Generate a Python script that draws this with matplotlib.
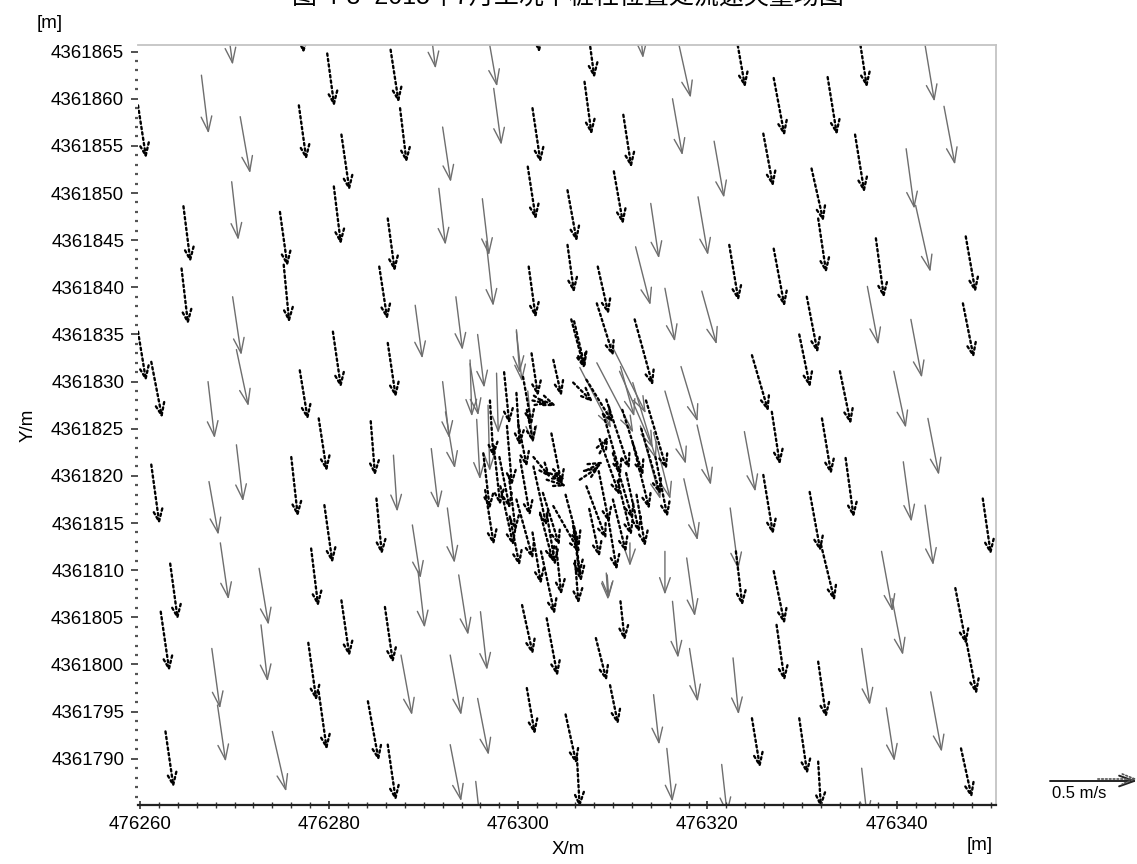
import numpy as np
from matplotlib import pyplot as plt
from matplotlib.patches import FancyArrowPatch

# Velocity vectors around the pile.
# Tail position (m) and velocity components (m/s).

# Solid (grey) arrows
solidX = [476269.0, 476290.5, 476296.7, 476316.9, 476343.0, 476312.6, 476266.5, 476270.6, 476292.0, 476297.4,
          476316.3, 476345.0, 476269.7, 476291.6, 476296.2, 476314.0, 476320.7, 476319.0, 476341.0, 476269.8,
          476293.4, 476296.6, 476312.4, 476315.5, 476342.0, 476336.9, 476319.4, 476267.2, 476270.2, 476289.1,
          476292.0, 476295.7, 476299.8, 476310.8, 476317.2, 476341.5, 476339.7, 476294.9,
          476270.2, 476267.3, 476268.5, 476272.6, 476272.8, 476267.6, 476268.2, 476274.0, 476286.8, 476290.8,
          476292.3, 476292.5, 476288.8, 476289.4, 476293.7, 476296.0, 476292.8, 476287.6, 476295.7, 476292.8,
          476318.9, 476317.5, 476316.3, 476317.8, 476318.1, 476322.7, 476314.3, 476315.7, 476322.4, 476323.9,
          476340.7, 476343.3, 476343.0, 476338.4, 476339.5, 476336.3, 476338.9, 476343.6, 476336.3, 476321.5,
          476295.5, 476309.4, 476315.5,
          476308.3, 476310.7, 476312.1, 476312.9, 476299.8, 476297.7, 476295.6, 476294.9, 476309.3, 476311.8,
          476314.3, 476296.8, 476301.0, 476306.5, 476309.8, 476315.5]
solidY = [4361869.6, 4361869.2, 4361867.3, 4361866.1, 4361865.7, 4361870.3, 4361862.5, 4361858.1, 4361857.0, 4361861.1,
          4361860.0, 4361859.2, 4361851.2, 4361850.5, 4361849.4, 4361848.9, 4361855.5, 4361849.6, 4361854.7, 4361839.0,
          4361839.0, 4361844.9, 4361844.3, 4361839.9, 4361848.7, 4361840.1, 4361839.6, 4361830.0, 4361833.4, 4361838.1,
          4361830.0, 4361835.0, 4361835.3, 4361831.6, 4361831.6, 4361836.6, 4361831.1, 4361831.9,
          4361823.3, 4361819.4, 4361812.9, 4361810.2, 4361804.2, 4361801.7, 4361795.7, 4361792.9, 4361822.2, 4361822.9,
          4361826.8, 4361816.6, 4361814.8, 4361809.9, 4361809.5, 4361805.6, 4361801.0, 4361801.0, 4361796.4, 4361791.5,
          4361825.4, 4361819.7, 4361806.7, 4361811.3, 4361801.7, 4361800.7, 4361796.8, 4361791.1, 4361816.6, 4361824.7,
          4361821.5, 4361826.1, 4361816.9, 4361812.0, 4361807.0, 4361801.7, 4361795.4, 4361797.1, 4361789.0, 4361789.4,
          4361787.6, 4361809.5, 4361812.0,
          4361832.0, 4361831.1, 4361829.9, 4361825.3, 4361835.5, 4361830.9, 4361826.0, 4361832.3, 4361809.7, 4361812.9,
          4361824.6, 4361827.5, 4361829.0, 4361831.5, 4361834.0, 4361829.0]
solidU = [0.044, 0.041, 0.057, 0.072, 0.054, 0.032, 0.041, 0.057, 0.047, 0.044,
          0.057, 0.063, 0.038, 0.038, 0.038, 0.047, 0.057, 0.057, 0.047, 0.050,
          0.038, 0.041, 0.085, 0.057, 0.085, 0.063, 0.085, 0.038, 0.069, 0.041,
          0.038, 0.038, 0.032, 0.079, 0.095, 0.063, 0.069, 0.047,
          0.038, 0.054, 0.047, 0.054, 0.038, 0.047, 0.047, 0.079, 0.022, 0.041,
          0.054, 0.041, 0.047, 0.038, 0.054, 0.038, 0.063, 0.063, 0.063, 0.063,
          0.079, 0.079, 0.032, 0.047, 0.047, 0.032, 0.032, 0.032, 0.047, 0.063,
          0.047, 0.063, 0.047, 0.063, 0.063, 0.047, 0.047, 0.063, 0.032, 0.032,
          0.032, 0.009, 0.000,
          0.210, 0.191, 0.134, 0.115, 0.019, 0.010, 0.019, 0.010, 0.010, 0.000,
          0.096, 0.010, 0.030, 0.180, 0.200, 0.120]
solidV = [-0.326, -0.326, -0.326, -0.326, -0.326, -0.326, -0.336, -0.326, -0.317, -0.326,
          -0.326, -0.336, -0.336, -0.326, -0.326, -0.317, -0.326, -0.336, -0.346, -0.336,
          -0.307, -0.374, -0.336, -0.307, -0.384, -0.336, -0.307, -0.326, -0.326, -0.307,
          -0.326, -0.307, -0.288, -0.288, -0.317, -0.336, -0.326, -0.298,
          -0.326, -0.307, -0.326, -0.326, -0.326, -0.346, -0.326, -0.346, -0.326, -0.346,
          -0.326, -0.317, -0.307, -0.326, -0.346, -0.336, -0.346, -0.346, -0.326, -0.326,
          -0.346, -0.355, -0.326, -0.336, -0.307, -0.326, -0.288, -0.307, -0.355, -0.346,
          -0.346, -0.326, -0.346, -0.346, -0.326, -0.326, -0.307, -0.346, -0.288, -0.288,
          -0.288, -0.134, -0.250,
          -0.403, -0.442, -0.442, -0.422, -0.250, -0.346, -0.346, -0.326, -0.154, -0.134,
          -0.384, -0.380, -0.300, -0.350, -0.400, -0.420]

# Dashed (black) arrows
dashX = [476277.0, 476301.8, 476279.8, 476286.5, 476307.3, 476323.0, 476336.0, 476259.8, 476276.8, 476281.3,
         476287.5, 476301.5, 476307.0, 476311.1, 476327.0, 476332.7, 476264.6, 476274.8, 476280.5, 476286.2,
         476301.0, 476305.2, 476310.1, 476325.9, 476331.0, 476331.7, 476335.6, 476264.4, 476275.2, 476285.3,
         476301.1, 476305.2, 476308.4, 476322.3, 476327.0, 476337.8, 476347.3, 476347.0, 476330.5, 476259.8,
         476261.2, 476276.9, 476280.4, 476286.2, 476305.9, 476324.7, 476329.7, 476334.0,
         476261.2, 476263.2, 476262.2, 476262.7, 476276.0, 476278.9, 476279.5, 476278.1, 476281.3, 476277.8,
         476278.9, 476284.1, 476284.4, 476285.0, 476285.9, 476286.2, 476300.4, 476303.0, 476300.9, 476305.0,
         476306.2, 476308.2, 476309.7, 476310.8, 476327.0, 476327.3, 476331.7, 476329.7, 476324.7, 476330.8,
         476332.0, 476334.6, 476332.1, 476326.8, 476325.9, 476323.0, 476346.2, 476347.3, 476349.1, 476346.8,
         476331.7, 476305.9, 476302.4,
         476305.6, 476308.3, 476312.3, 476309.3, 476308.6, 476310.0, 476311.4, 476303.7, 476301.4, 476299.8,
         476298.8, 476297.4, 476300.2, 476301.6, 476298.1, 476299.8, 476302.6, 476303.7, 476305.8, 476307.2,
         476300.9, 476302.3, 476303.0, 476306.5, 476296.3, 476299.1, 476312.1, 476307.2, 476305.8, 476310.0,
         476302.3,
         476297.0, 476298.5, 476300.5, 476296.5, 476298.0, 476300.0, 476301.5, 476309.0, 476311.0, 476313.5,
         476314.5, 476312.5, 476308.5, 476303.0, 476305.0, 476307.5, 476301.5, 476309.5, 476304.0, 476306.0,
         476301.6, 476302.8, 476307.2, 476308.6, 476299.0, 476303.5, 476310.5, 476313.0]
dashY = [4361870.6, 4361870.5, 4361864.8, 4361865.2, 4361867.8, 4361866.8, 4361866.8, 4361859.3, 4361859.3, 4361856.2,
         4361859.0, 4361859.0, 4361861.8, 4361858.3, 4361862.2, 4361862.3, 4361848.6, 4361848.0, 4361850.7, 4361847.3,
         4361852.8, 4361850.3, 4361852.3, 4361856.3, 4361852.6, 4361847.3, 4361856.2, 4361842.0, 4361842.4, 4361842.2,
         4361842.2, 4361844.5, 4361842.2, 4361844.5, 4361844.1, 4361845.2, 4361845.4, 4361838.3, 4361839.0, 4361835.3,
         4361832.1, 4361831.2, 4361835.3, 4361834.1, 4361836.4, 4361832.8, 4361835.0, 4361831.1,
         4361821.2, 4361810.7, 4361805.6, 4361792.9, 4361822.0, 4361826.1, 4361816.9, 4361812.3, 4361806.8, 4361802.3,
         4361797.1, 4361796.1, 4361825.8, 4361817.6, 4361806.1, 4361791.5, 4361806.3, 4361804.9, 4361797.5, 4361794.7,
         4361790.1, 4361802.8, 4361797.8, 4361806.7, 4361809.9, 4361804.2, 4361800.3, 4361794.3, 4361794.3, 4361818.3,
         4361812.7, 4361821.9, 4361826.1, 4361826.8, 4361820.1, 4361812.0, 4361808.1, 4361802.8, 4361817.6, 4361791.1,
         4361789.7, 4361814.4, 4361812.0,
         4361836.6, 4361838.3, 4361836.6, 4361828.1, 4361823.9, 4361822.4, 4361820.3, 4361832.3, 4361833.0, 4361828.8,
         4361825.3, 4361823.2, 4361821.7, 4361821.0, 4361818.9, 4361817.5, 4361818.2, 4361816.8, 4361814.7, 4361818.9,
         4361827.0, 4361828.1, 4361819.6, 4361819.6, 4361822.4, 4361815.7, 4361823.5, 4361830.2, 4361829.9, 4361817.5,
         4361816.1,
         4361828.0, 4361831.0, 4361830.5, 4361818.5, 4361822.0, 4361825.5, 4361828.0, 4361826.5, 4361827.0, 4361828.0,
         4361822.0, 4361818.0, 4361820.5, 4361816.0, 4361818.0, 4361816.5, 4361814.0, 4361815.5, 4361812.5, 4361811.0,
         4361822.0, 4361820.5, 4361820.6, 4361822.4, 4361820.0, 4361824.5, 4361819.5, 4361825.0]
dashU = [0.016, 0.022, 0.041, 0.047, 0.041, 0.054, 0.047, 0.047, 0.044, 0.047,
         0.038, 0.047, 0.041, 0.047, 0.063, 0.054, 0.041, 0.044, 0.041, 0.041,
         0.047, 0.054, 0.054, 0.057, 0.069, 0.047, 0.054, 0.038, 0.032, 0.047,
         0.041, 0.038, 0.063, 0.054, 0.063, 0.047, 0.057, 0.063, 0.063, 0.047,
         0.063, 0.047, 0.047, 0.047, 0.063, 0.095, 0.063, 0.063,
         0.047, 0.044, 0.050, 0.047, 0.038, 0.047, 0.047, 0.041, 0.047, 0.047,
         0.047, 0.063, 0.025, 0.032, 0.047, 0.047, 0.063, 0.063, 0.047, 0.063,
         0.016, 0.063, 0.047, 0.025, 0.063, 0.047, 0.047, 0.047, 0.047, 0.063,
         0.079, 0.047, 0.054, 0.047, 0.057, 0.038, 0.063, 0.063, 0.047, 0.063,
         0.016, 0.041, 0.079,
         0.076, 0.096, 0.105, 0.134, 0.115, 0.115, 0.076, 0.048, 0.038, 0.019,
         0.029, 0.038, 0.057, 0.076, 0.076, 0.096, 0.096, 0.153, 0.038, 0.115,
         0.038, 0.096, 0.115, 0.115, 0.038, 0.057, 0.096, 0.153, 0.115, 0.076,
         0.076,
         0.020, 0.030, 0.050, 0.050, 0.060, 0.050, 0.090, 0.100, 0.120, 0.120,
         0.070, 0.050, 0.060, 0.050, 0.080, 0.060, 0.050, 0.050, 0.030, 0.020,
         0.100, 0.120, 0.100, 0.050, 0.040, 0.060, 0.080, 0.110]
dashV = [-0.317, -0.307, -0.307, -0.307, -0.307, -0.307, -0.307, -0.307, -0.317, -0.326,
         -0.317, -0.317, -0.307, -0.307, -0.336, -0.336, -0.326, -0.317, -0.336, -0.307,
         -0.307, -0.298, -0.307, -0.307, -0.307, -0.317, -0.336, -0.326, -0.336, -0.307,
         -0.298, -0.278, -0.278, -0.326, -0.336, -0.346, -0.326, -0.317, -0.326, -0.288,
         -0.326, -0.288, -0.326, -0.317, -0.269, -0.326, -0.307, -0.307,
         -0.346, -0.326, -0.346, -0.326, -0.346, -0.307, -0.336, -0.336, -0.326, -0.336,
         -0.336, -0.346, -0.317, -0.326, -0.326, -0.326, -0.288, -0.336, -0.269, -0.288,
         -0.288, -0.250, -0.230, -0.230, -0.307, -0.326, -0.326, -0.326, -0.288, -0.346,
         -0.326, -0.346, -0.326, -0.307, -0.346, -0.317, -0.326, -0.326, -0.326, -0.288,
         -0.269, -0.307, -0.365,
         -0.288, -0.307, -0.384, -0.403, -0.326, -0.384, -0.346, -0.211, -0.250, -0.307,
         -0.346, -0.346, -0.326, -0.346, -0.346, -0.346, -0.307, -0.269, -0.288, -0.307,
         -0.192, -0.038, -0.038, 0.077, -0.326, -0.288, -0.384, -0.250, -0.115, -0.307,
         -0.288,
         -0.330, -0.300, -0.280, -0.320, -0.300, -0.250, -0.020, -0.350, -0.380, -0.400,
         -0.350, -0.300, -0.300, -0.300, -0.300, -0.280, -0.300, -0.300, -0.280, -0.250,
         -0.120, -0.050, 0.050, 0.100, -0.320, -0.300, -0.320, -0.380]

xTicks = [476260, 476280, 476300, 476320, 476340]
yTicks = [4361790, 4361795, 4361800, 4361805, 4361810, 4361815, 4361820, 4361825,
          4361830, 4361835, 4361840, 4361845, 4361850, 4361855, 4361860, 4361865]
refSpeed = 0.5  # m/s, reference arrow
titleText = "图 4-8  2015年7月工况下桩柱位置处流速矢量场图"

plt.rcParams['font.family'] = ['Liberation Sans', 'Noto Sans CJK SC', 'DejaVu Sans']

# metres of arrow per 1 m/s
velScale = 18.4

fig = plt.figure(figsize=(11.37, 8.64), dpi=100)
ax = fig.add_axes([0.1214, 0.0683, 0.7546, 0.8796])
ax.set_xlim(476259.8, 476350.5)
ax.set_ylim(4361785.1, 4361865.7)

solidStyle = dict(arrowstyle='->,head_length=0.9,head_width=0.32', mutation_scale=12,
                  color='#6e6e6e', lw=1.0, shrinkA=0, shrinkB=0)
dashStyle = dict(arrowstyle='->,head_length=0.75,head_width=0.3', mutation_scale=12,
                 color='black', lw=1.7, linestyle=(0, (1, 1.3)), shrinkA=0, shrinkB=0)

for i in range(0, len(solidX)):
    tail = (solidX[i], solidY[i])
    head = (solidX[i] + solidU[i] * velScale, solidY[i] + solidV[i] * velScale)
    ax.add_patch(FancyArrowPatch(tail, head, **solidStyle))

for i in range(0, len(dashX)):
    tail = (dashX[i], dashY[i])
    head = (dashX[i] + dashU[i] * velScale, dashY[i] + dashV[i] * velScale)
    ax.add_patch(FancyArrowPatch(tail, head, **dashStyle))

# Axes decoration
tfont = {'fontsize': 13.5}
ax.set_xticks(xTicks, [str(t) for t in xTicks], **tfont)
ax.set_yticks(yTicks, [str(t) for t in yTicks], **tfont)
ax.set_xticks(np.arange(476260, 476351, 2), minor=True)
ax.set_yticks(np.arange(4361786, 4361866, 1), minor=True)
ax.tick_params(axis='x', which='major', direction='inout', length=6, width=1.2, pad=5, color='#333333')
ax.tick_params(axis='x', which='minor', direction='inout', length=4, width=1.0, color='#333333')
ax.tick_params(axis='y', which='major', direction='out', length=5, width=1.2, pad=5, color='#333333')
ax.tick_params(axis='y', which='minor', direction='out', length=2, width=1.6, color='#555555')

ax.spines['left'].set_visible(False)
ax.spines['bottom'].set_color('#222222')
ax.spines['bottom'].set_linewidth(1.6)
ax.spines['top'].set_color('#c4c4c4')
ax.spines['top'].set_linewidth(1.3)
ax.spines['right'].set_color('#c4c4c4')
ax.spines['right'].set_linewidth(1.3)

fig.text(568 / 1137, 1 - 850 / 864, 'X/m', ha='center', va='center', fontsize=13.5)
fig.text(28 / 1137, 1 - 425 / 864, 'Y/m', ha='center', va='center', rotation=90, fontsize=13.5)
fig.text(50 / 1137, 1 - 24 / 864, '[m]', ha='center', va='center', fontsize=13.5)
fig.text(980 / 1137, 1 - 846 / 864, '[m]', ha='center', va='center', fontsize=13.5)
# the title sits mostly above the top edge, as in the source image
fig.text(0.4996, 1 - 9 / 864, titleText, ha='center', va='bottom', fontsize=18)

# Reference arrow (0.5 m/s) outside the plot on the right
p0 = ax.transData.transform((476300, 4361800))
p1 = ax.transData.transform((476300 + refSpeed * velScale, 4361800))
refLen = (p1[0] - p0[0]) / 1137.0
x0 = 1050 / 1137.0
yArr = 1 - 781 / 864.0
fig.add_artist(FancyArrowPatch((x0, yArr), (x0 + refLen, yArr), transform=fig.transFigure,
                               arrowstyle='->,head_length=0.9,head_width=0.32', mutation_scale=12,
                               color='#222222', lw=1.4, shrinkA=0, shrinkB=0))
fig.add_artist(FancyArrowPatch((x0 + refLen * 0.55, yArr + 2 / 864.0), (x0 + refLen, yArr + 2 / 864.0),
                               transform=fig.transFigure,
                               arrowstyle='->,head_length=0.75,head_width=0.3', mutation_scale=12,
                               color='#555555', lw=1.2, linestyle=(0, (1, 1.3)), shrinkA=0, shrinkB=0))
fig.text(x0 + 0.002, 1 - 794 / 864, '0.5 m/s', ha='left', va='center', fontsize=12)

plt.savefig("out.png", dpi=100)
